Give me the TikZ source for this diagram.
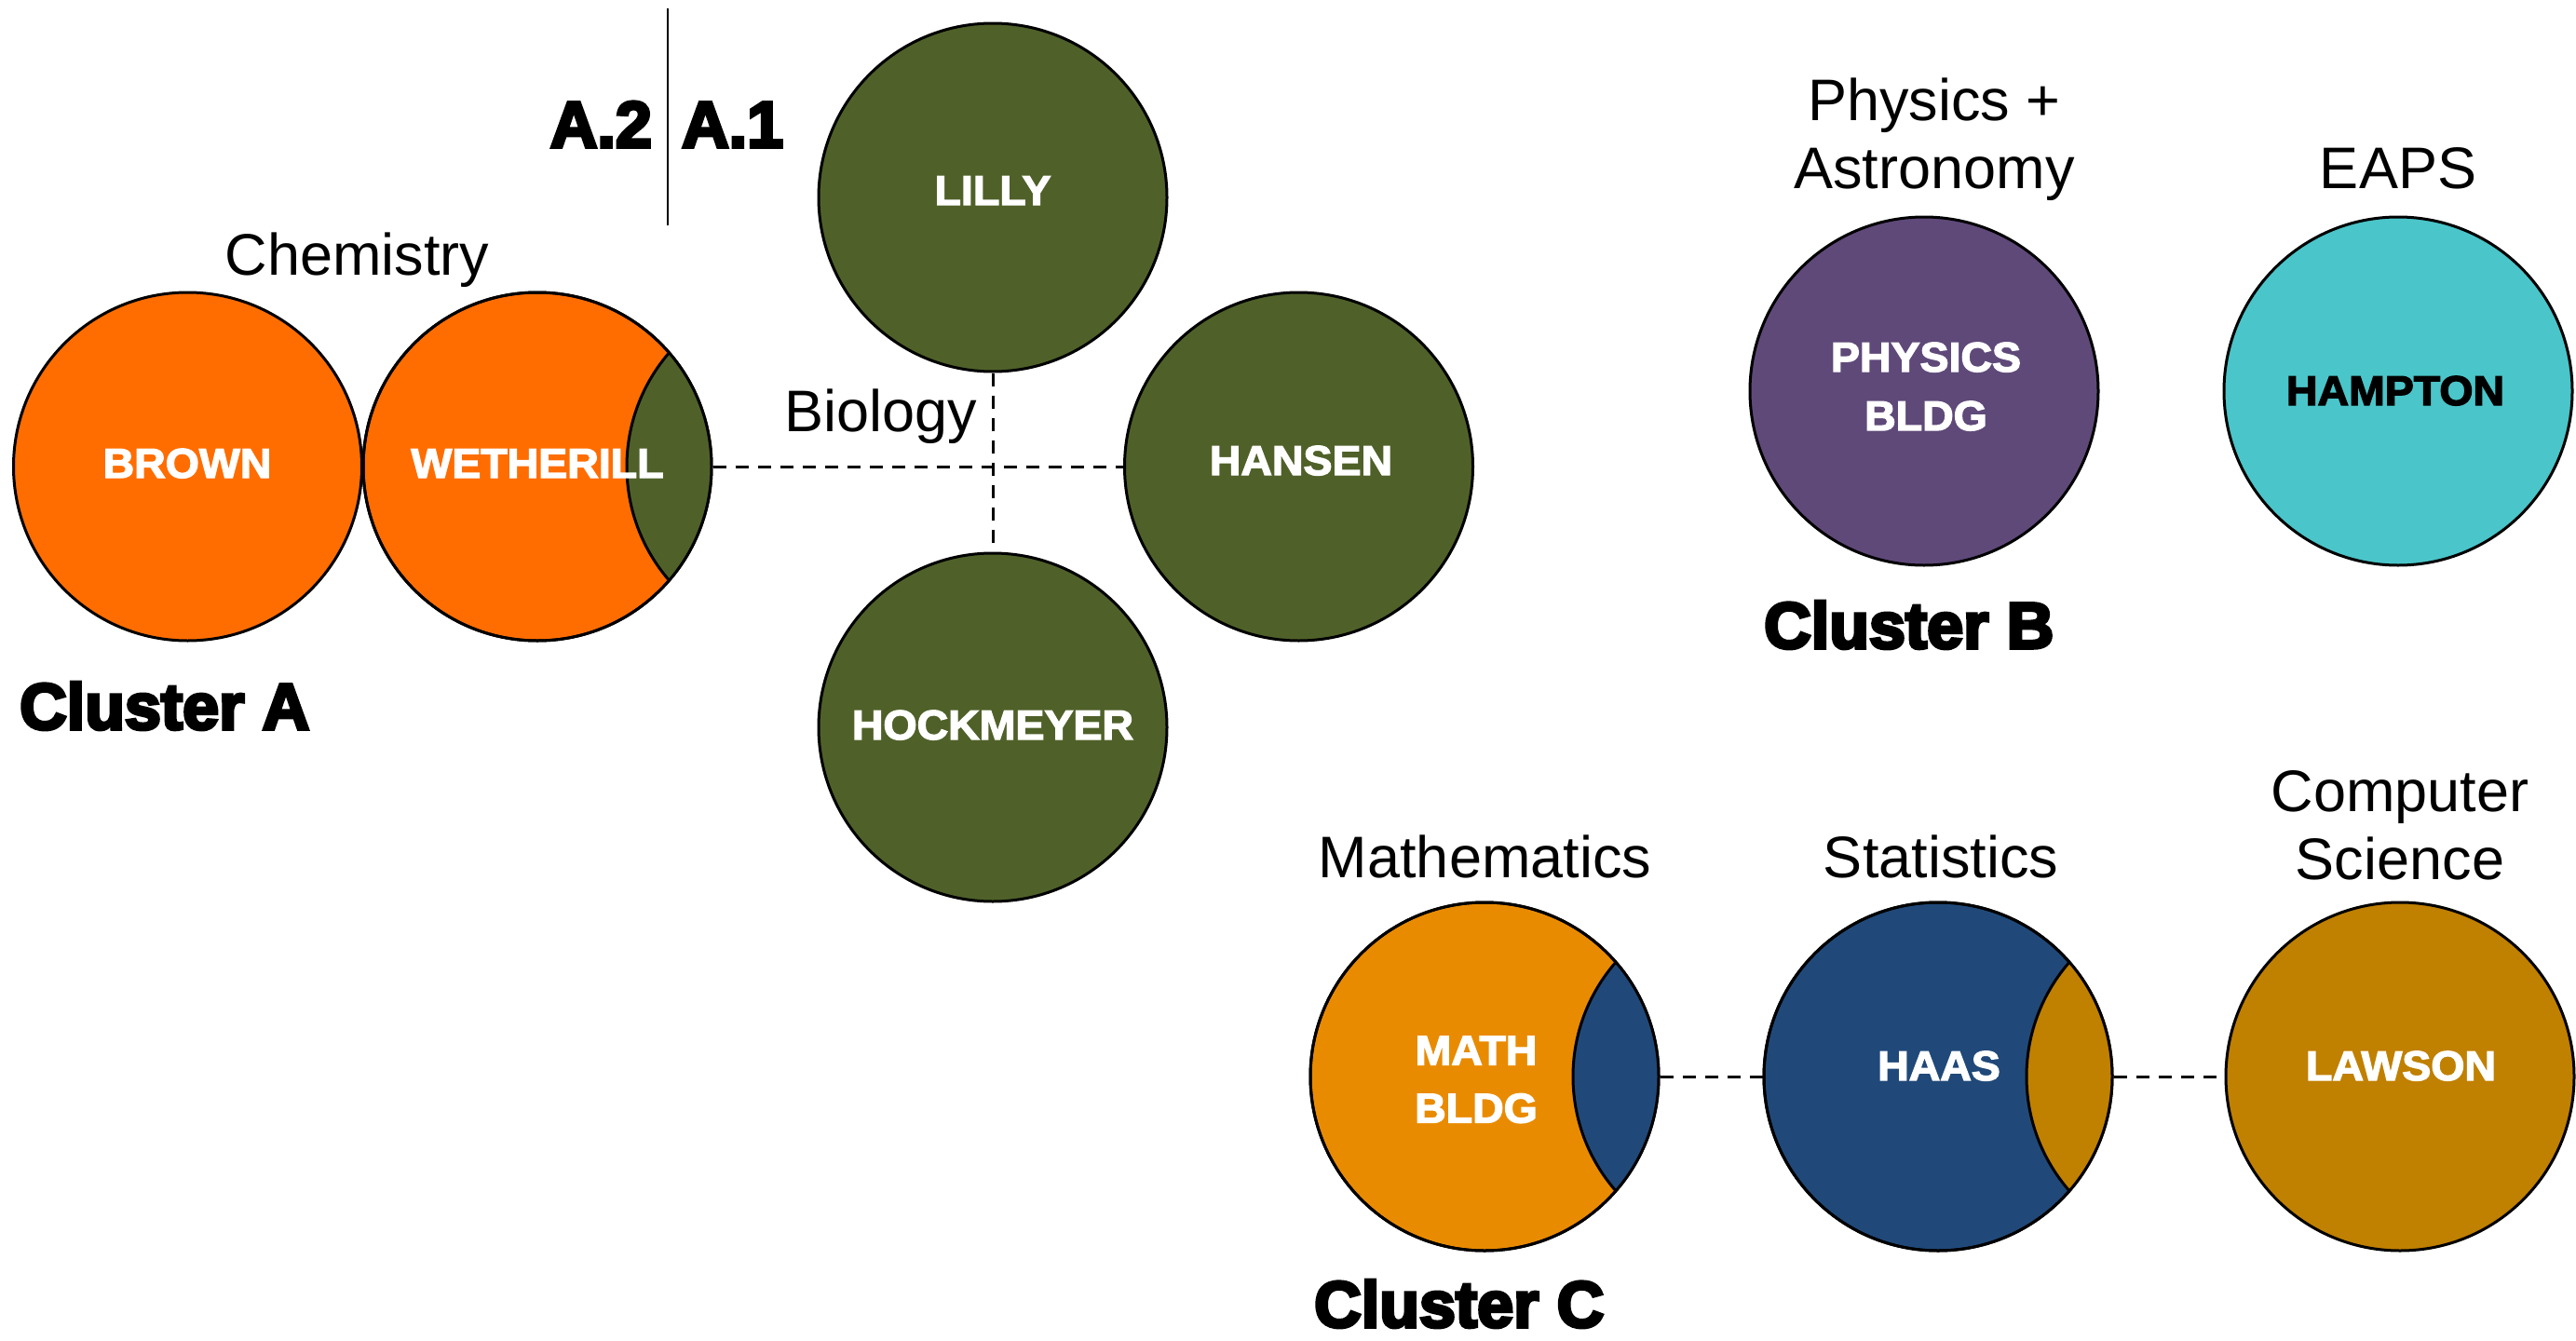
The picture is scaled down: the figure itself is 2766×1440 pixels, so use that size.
\documentclass[tikz,border=0pt]{standalone}
\usepackage{fontspec}
\setmainfont{Liberation Sans}
\newfontfamily\tagfont{Liberation Sans}[BoldFeatures={FakeStretch=1.04, FakeBold=3}]
\newfontfamily\clusterfont{Liberation Sans}[BoldFeatures={FakeBold=5}]

\definecolor{chem}{HTML}{FF6D00}
\definecolor{bio}{HTML}{4F6129}
\definecolor{phys}{HTML}{5F4979}
\definecolor{eaps}{HTML}{4AC5C9}
\definecolor{mathc}{HTML}{E98B00}
\definecolor{stat}{HTML}{204979}
\definecolor{cs}{HTML}{C08000}

\begin{document}
\begin{tikzpicture}[x=1pt,y=-1pt,
  bldg/.style={circle, draw=black, line width=3pt, minimum size=374pt, inner sep=0pt},
  tag/.style={text=white, font=\tagfont\bfseries\fontsize{44.7}{50}\selectfont, anchor=base, inner sep=0pt},
  dept/.style={font=\fontsize{63}{73}\selectfont, anchor=base, inner sep=0pt},
  cluster/.style={font=\clusterfont\bfseries\fontsize{70}{80}\selectfont, anchor=base west, inner sep=0pt},
  link/.style={line width=3pt, dash pattern=on 14pt off 10pt},
  crescent/.style={line width=3pt, draw=black}
]
\useasboundingbox (0,0) rectangle (2766,1440);

% buildings
\node[bldg, fill=chem] (brown) at (201.5,501) {};
\node[bldg, fill=chem] (wetherill) at (577,501) {};
\node[bldg, fill=bio] (lilly) at (1066,212) {};
\node[bldg, fill=bio] (hansen) at (1394.5,501) {};
\node[bldg, fill=bio] (hockmeyer) at (1066,781) {};
\node[bldg, fill=phys] (physics) at (2066,420) {};
\node[bldg, fill=eaps] (hampton) at (2575,420) {};
\node[bldg, fill=mathc] (mathbldg) at (1594,1156) {};
\node[bldg, fill=stat] (haas) at (2081,1156) {};
\node[bldg, fill=cs] (lawson) at (2577,1156) {};

% shared-department crescents
\begin{scope}
  \clip (wetherill.center) circle[radius=187pt];
  \fill[bio, crescent] ([xshift=283pt]wetherill.center) circle[radius=187pt];
\end{scope}
\draw[line width=3pt] (wetherill.center) circle[radius=187pt];
\begin{scope}
  \clip (mathbldg.center) circle[radius=187pt];
  \fill[stat, crescent] ([xshift=282pt]mathbldg.center) circle[radius=187pt];
\end{scope}
\draw[line width=3pt] (mathbldg.center) circle[radius=187pt];
\begin{scope}
  \clip (haas.center) circle[radius=187pt];
  \fill[cs, crescent] ([xshift=282pt]haas.center) circle[radius=187pt];
\end{scope}
\draw[line width=3pt] (haas.center) circle[radius=187pt];

% links
\draw[link] (wetherill.east) -- (hansen.west);
\draw[link] (lilly.south) -- (hockmeyer.north);
\draw[link] (mathbldg.east) -- (haas.west);
\draw[link] (haas.east) -- (lawson.west);

% sub-cluster divider
\coordinate (divtop) at (717,9);
\coordinate (divbot) at (717,242);
\draw[line width=2.5pt] (divtop) -- (divbot);

% building names
\node[tag] (brown-t) at (201,513) {BROWN};
\node[tag] (wetherill-t) at (577,513) {WETHERILL};
\node[tag] (lilly-t) at (1066,220) {LILLY};
\node[tag] (hansen-t) at (1397,510) {HANSEN};
\node[tag] (hockmeyer-t) at (1066,794) {HOCKMEYER};
\node[tag] (physics-t1) at (2068,399) {PHYSICS};
\node[tag] (physics-t2) at (2068,462) {BLDG};
\node[tag, text=black] (hampton-t) at (2572,435) {HAMPTON};
\node[tag] (math-t1) at (1585,1143.5) {MATH};
\node[tag] (math-t2) at (1585,1205.5) {BLDG};
\node[tag] (haas-t) at (2082,1160) {HAAS};
\node[tag] (lawson-t) at (2578,1160) {LAWSON};

% departments
\node[dept] (chem-l) at (383.5,295) {Chemistry};
\node[dept] (bio-l) at (946,463) {Biology};
\node[dept] (phys-l1) at (2077,129) {Physics +};
\node[dept] (phys-l2) at (2077,202.6) {Astronomy};
\node[dept] (eaps-l) at (2575,202) {EAPS};
\node[dept] (math-l) at (1594.5,942) {Mathematics};
\node[dept] (stat-l) at (2084,942) {Statistics};
\node[dept] (cs-l1) at (2577,871) {Computer};
\node[dept] (cs-l2) at (2577,944) {Science};

% clusters
\node[cluster] (cl-a) at (21,783) {Cluster A};
\node[cluster] (cl-b) at (1894,696) {Cluster B};
\node[cluster] (cl-c) at (1411,1425) {Cluster C};
\node[cluster, anchor=base east] (a2) at (700,158) {A.2};
\node[cluster] (a1) at (732,158) {A.1};
\end{tikzpicture}
\end{document}
